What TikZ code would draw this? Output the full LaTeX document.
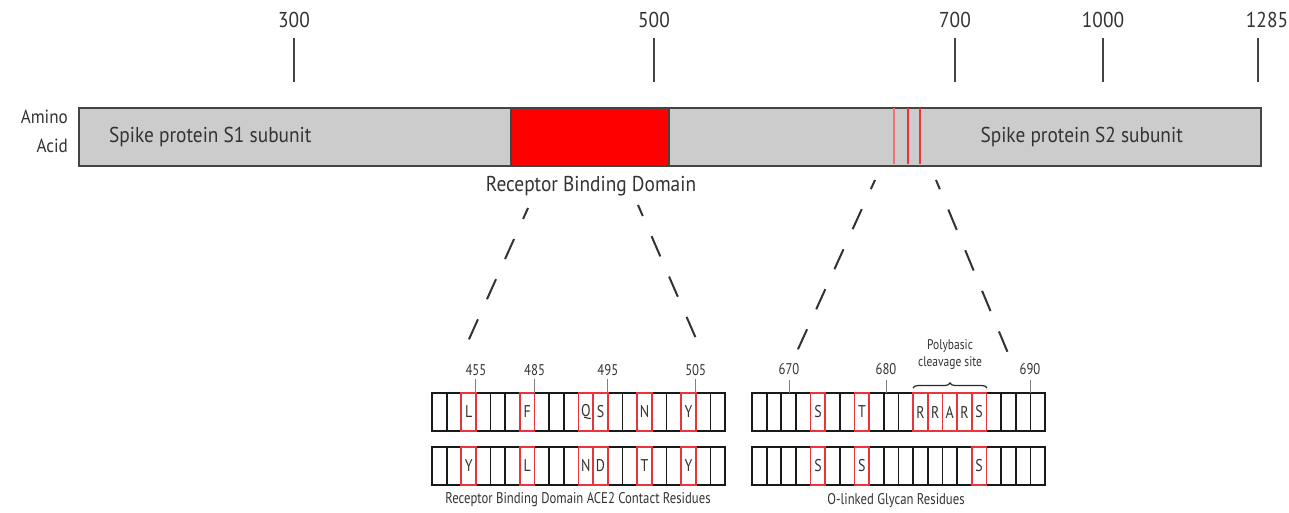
\documentclass[tikz,border=0pt]{standalone}
\usepackage{fontspec}
\setmainfont{PT Sans}
\newfontfamily\bigfam{PT Sans}[FakeStretch=0.9]
\newfontfamily\smallfam{PT Sans}[FakeStretch=0.82]
\usetikzlibrary{decorations.pathreplacing}
\definecolor{txt}{HTML}{333333}
\definecolor{barfill}{HTML}{CCCCCC}
\definecolor{barline}{HTML}{444444}
\definecolor{rbd}{HTML}{FF0000}
\definecolor{hl}{HTML}{E8343A}
\begin{document}
\begin{tikzpicture}[x=1pt,y=-1pt,
  biglbl/.style={font=\bigfam\fontsize{21.5}{24}\selectfont, text=txt, inner sep=0pt},
  smalllbl/.style={font=\smallfam\fontsize{15.5}{17}\selectfont, text=txt, inner sep=0pt},
  reslbl/.style={font=\smallfam\fontsize{17}{19}\selectfont, text=txt, inner sep=0pt},
  ticktop/.style={draw=barline, line width=1.8pt},
  tickgrid/.style={draw=gray, line width=1pt},
  gridline/.style={draw=black!90, line width=1.7pt},
  redcell/.style={draw=hl, line width=1.7pt},
  zoomline/.style={draw=black!80, line width=2pt, dash pattern=on 22pt off 22pt},
]
\useasboundingbox (0,0) rectangle (1289,512);

% ---- amino-acid scale above the spike bar ----
\foreach \x/\lx/\t [count=\k] in {294/294/300, 654/654/500, 955/955/700, 1103/1103/1000, 1258/1267/1285} {
  \node[biglbl] (scale\k) at (\lx,20) {\t};
  \draw[ticktop] (\x,38) -- (\x,82);
}

% ---- spike protein bar ----
\node[draw=barline, line width=1.8pt, fill=barfill, minimum width=1182pt,
      minimum height=58pt, inner sep=0pt, anchor=north west] (bar) at (78,107) {};
\node[draw=barline, line width=1.5pt, fill=rbd, minimum width=158pt,
      minimum height=58pt, inner sep=0pt, anchor=north west] (rbdbox) at (510,107) {};
\foreach \x/\c in {894/hl!70!white, 908/hl, 920/hl}
  \draw[\c, line width=1.4pt] (\x,108) -- (\x,164);

\node[biglbl, align=right, anchor=east, font=\bigfam\fontsize{19}{29}\selectfont] (aa) at (68,131) {Amino\\Acid};
\node[biglbl, anchor=west] (s1) at (109,137) {Spike protein S1 subunit};
\node[biglbl, anchor=east] (s2) at (1183,137) {Spike protein S2 subunit};
\node[biglbl] (rbdlbl) at (591,186) {Receptor Binding Domain};

% ---- zoom guides ----
\coordinate (zl1) at (528,208);
\coordinate (zl2) at (461,357);
\coordinate (zr1) at (638,205);
\coordinate (zr2) at (704,357);
\coordinate (gl1) at (875,180);
\coordinate (gl2) at (794,358);
\coordinate (gr1) at (936,180);
\coordinate (gr2) at (1010,358);
\draw[zoomline, dash phase=10pt] (zl1) -- (zl2);
\draw[zoomline, dash phase=10pt] (zr1) -- (zr2);
\draw[zoomline, dash phase=12pt] (gl1) -- (gl2);
\draw[zoomline, dash phase=12pt] (gr1) -- (gr2);

% ---- receptor binding domain residue table ----
\foreach \yt in {393,447} {
  \draw[gridline] (432,\yt) rectangle (725,\yt+38);
  \foreach \i in {1,...,19} \draw[gridline] (432+\i*14.65,\yt) -- ++(0,38);
}
\foreach \c/\a/\b in {3/L/Y, 7/F/L, 11/Q/N, 12/S/D, 15/N/T, 18/Y/Y} {
  \draw[redcell] (432+\c*14.65-14.65,393) rectangle ++(14.65,38);
  \draw[redcell] (432+\c*14.65-14.65,447) rectangle ++(14.65,38);
  \node[reslbl] (ra\c) at (432+\c*14.65-7.3,412) {\a};
  \node[reslbl] (rb\c) at (432+\c*14.65-7.3,466) {\b};
}
\foreach \l/\t in {3/455, 7/485, 12/495, 18/505} {
  \draw[tickgrid] (432+\l*14.65,379) -- (432+\l*14.65,393);
  \node[smalllbl] (rt\t) at (432+\l*14.65,370) {\t};
}
\node[smalllbl] (rcap) at (578,500) {Receptor Binding Domain ACE2 Contact Residues};

% ---- glycan residue table ----
\foreach \yt in {393,447} {
  \draw[gridline] (752,\yt) rectangle (1045,\yt+38);
  \foreach \i in {1,...,19} \draw[gridline] (752+\i*14.65,\yt) -- ++(0,38);
}
\foreach \c/\a in {5/S, 8/T, 12/R, 13/R, 14/A, 15/R, 16/S} {
  \draw[redcell] (752+\c*14.65-14.65,393) rectangle ++(14.65,38);
  \node[reslbl] (ga\c) at (752+\c*14.65-7.3,412) {\a};
}
\foreach \c in {5, 8, 16} {
  \draw[redcell] (752+\c*14.65-14.65,447) rectangle ++(14.65,38);
  \node[reslbl] (gb\c) at (752+\c*14.65-7.3,466) {S};
}
\foreach \x/\t in {789/670, 886/680, 1030/690} {
  \draw[tickgrid] (\x,380) -- (\x,393);
  \node[smalllbl] (gt\t) at (\x,369) {\t};
}
\draw[black!85, line width=1.2pt, decorate, decoration={brace, amplitude=5pt}]
  (913,388) -- (987,388);
\node[smalllbl, align=center, font=\smallfam\fontsize{14}{17}\selectfont] (poly) at (950,355) {Polybasic\\cleavage site};
\node[smalllbl] (gcap) at (896,501) {O-linked Glycan Residues};
\end{tikzpicture}
\end{document}
